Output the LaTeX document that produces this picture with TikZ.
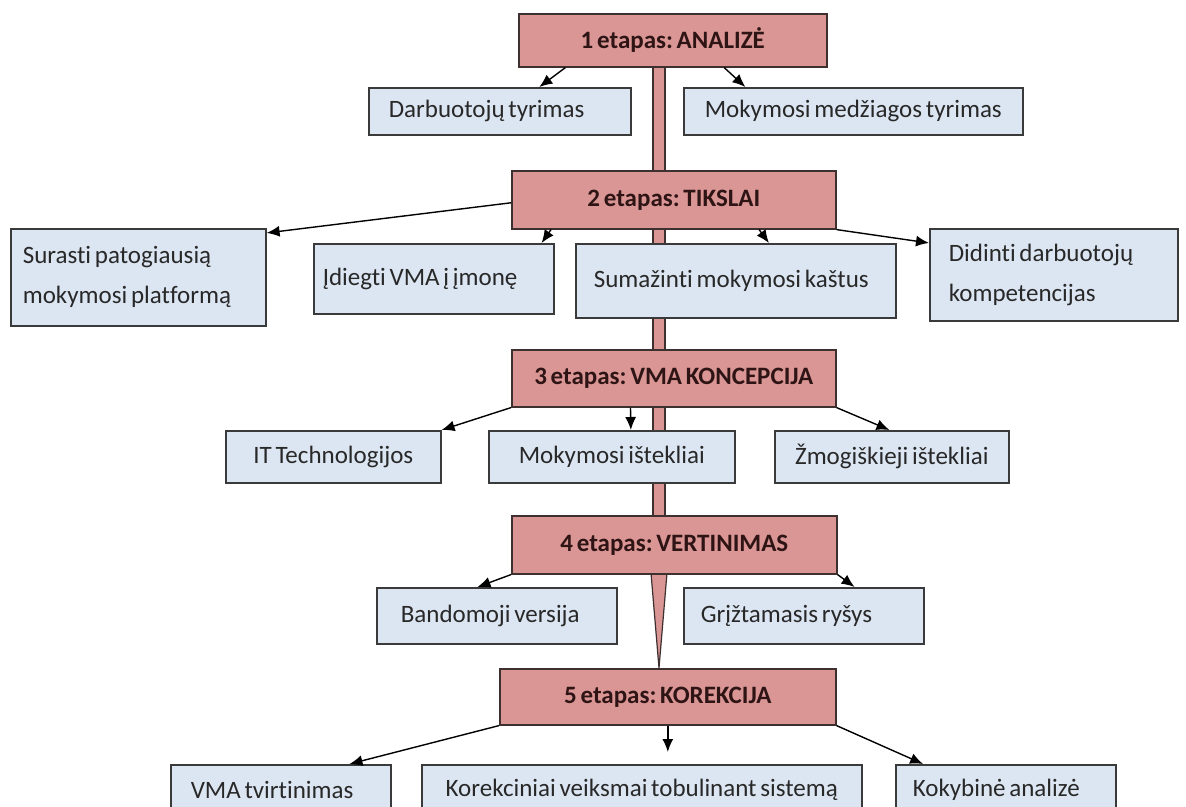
\documentclass[tikz,border=0pt]{standalone}
\usepackage{fontspec}
\setmainfont{Carlito}[Ligatures=NoCommon]
\usetikzlibrary{arrows.meta,calc}

\definecolor{stagefill}{HTML}{D99694}
\definecolor{stageline}{HTML}{3F3030}
\definecolor{stagetext}{HTML}{2E1414}
\definecolor{itemfill}{HTML}{DCE6F2}
\definecolor{itemline}{HTML}{3A3A3A}
\definecolor{itemtext}{HTML}{282828}

% narrow gap between words
\newcommand\wordgap{\hspace{0.15em}}

\tikzset{
  stage/.style={draw=stageline, fill=stagefill, line width=1.6pt,
    anchor=north west, inner ysep=0pt, align=center, text=stagetext,
    font=\bfseries\fontsize{25}{29}\selectfont},
  item/.style={draw=itemline, fill=itemfill, line width=1.6pt,
    anchor=north west, inner ysep=0pt, align=left, text=itemtext,
    font=\fontsize{25}{40}\selectfont},
  centred/.style={align=center},
  arr/.style={draw=black, line width=1.4pt, -{Latex[length=13pt,width=11pt]}},
  shaft/.style={fill=stagefill, draw=stageline, line width=1.2pt},
}

\begin{document}
\begin{tikzpicture}[x=1pt,y=-1pt]
\useasboundingbox (0,0) rectangle (1186,806);

% central spine behind all boxes
\draw[shaft] (653,60) rectangle (665,540);
\draw[shaft] (651,573) -- (667,573) -- (659,668) -- cycle;

% stage 1
\node[stage, inner xsep=0pt, text width=308pt, minimum height=53pt] (b1) at (518,13) {1\wordgap etapas:\wordgap ANALIZĖ};
\node[item, inner xsep=20pt, text width=222pt, minimum height=47pt] (d1) at (368,87) {Darbuotojų\wordgap tyrimas};
\node[item, inner xsep=21pt, text width=297pt, minimum height=47pt] (d2) at (683,87) {Mokymosi\wordgap medžiagos\wordgap tyrimas};

% stage 2
\node[stage, inner xsep=0pt, text width=324pt, minimum height=58pt] (b2) at (511,170) {2\wordgap etapas:\wordgap TIKSLAI};
\node[item, inner xsep=12pt, text width=231pt, minimum height=97pt] (s1) at (10,228) {Surasti\wordgap patogiausią\\mokymosi\wordgap platformą};
\node[item, inner xsep=9pt, text width=222pt, minimum height=70pt] (s2) at (313,243) {Įdiegti\wordgap VMA\wordgap į\wordgap įmonę};
\node[item, inner xsep=18pt, text width=284pt, minimum height=74pt] (s3) at (575,243) {Sumažinti\wordgap mokymosi\wordgap kaštus};
\node[item, inner xsep=19pt, text width=210pt, minimum height=92pt] (s4) at (929,228) {Didinti\wordgap darbuotojų\\kompetencijas};

% stage 3
\node[stage, inner xsep=0pt, text width=324pt, minimum height=57pt] (b3) at (511,349) {3\wordgap etapas:\wordgap VMA\wordgap KONCEPCIJA};
\node[item, centred, inner xsep=0pt, text width=215pt, minimum height=52pt] (t1) at (225,430) {IT\wordgap Technologijos};
\node[item, centred, inner xsep=0pt, text width=246pt, minimum height=52pt] (t2) at (488,430) {Mokymosi\wordgap ištekliai};
\node[item, centred, inner xsep=0pt, text width=234pt, minimum height=52pt] (t3) at (774,430) {Žmogiškieji\wordgap ištekliai};

% stage 4
\node[stage, inner xsep=0pt, text width=325pt, minimum height=58pt] (b4) at (511,515) {4\wordgap etapas:\wordgap VERTINIMAS};
\node[item, inner xsep=24pt, text width=192pt, minimum height=56pt] (v1) at (376,587) {Bandomoji\wordgap versija};
\node[item, inner xsep=17pt, text width=206pt, minimum height=56pt] (v2) at (683,587) {Grįžtamasis\wordgap ryšys};

% stage 5
\node[stage, inner xsep=0pt, text width=336pt, minimum height=56pt] (b5) at (499,668) {5\wordgap etapas:\wordgap KOREKCIJA};
\node[item, inner xsep=20pt, text width=180pt, minimum height=50pt] (k1) at (170,764) {VMA\wordgap tvirtinimas};
\node[item, centred, inner xsep=0pt, text width=440pt, minimum height=50pt] (k2) at (421,764) {Korekciniai\wordgap veiksmai\wordgap tobulinant\wordgap sistemą};
\node[item, inner xsep=17pt, text width=186pt, minimum height=50pt] (k3) at (895,764) {Kokybinė\wordgap analizė};

% connectors
\draw[arr] ($(b1.south west)!0.153!(b1.south east)$) -- ($(d1.north west)!0.65!(d1.north east)$);
\draw[arr] ($(b1.south west)!0.666!(b1.south east)$) -- ($(d2.north west)!0.183!(d2.north east)$);

\draw[arr] ($(b2.north west)!0.55!(b2.south west)$) -- ($(s1.north east)!0.05!(s1.south east)$);
\draw[arr] ($(b2.south west)!0.123!(b2.south east)$) -- ($(s2.north west)!0.946!(s2.north east)$);
\draw[arr] ($(b2.south west)!0.762!(b2.south east)$) -- ($(s3.north west)!0.603!(s3.north east)$);
\draw[arr] (b2.south east) -- ($(s4.north west)!0.16!(s4.south west)$);

\draw[arr] (b3.south west) -- (t1.north east);
\draw[arr] ($(b3.south west)!0.367!(b3.south east)$) -- ($(t2.north west)!0.577!(t2.north east)$);
\draw[arr] (b3.south east) -- ($(t3.north west)!0.49!(t3.north east)$);

\draw[arr] (b4.south west) -- ($(v1.north west)!0.42!(v1.north east)$);
\draw[arr] (b4.south east) -- ($(v2.north west)!0.71!(v2.north east)$);

\draw[arr] (b5.south west) -- ($(k1.north west)!0.81!(k1.north east)$);
\draw[arr, shorten >=12pt] (b5.south) -- (b5.south |- k2.north);
\draw[arr] (b5.south east) -- ($(k3.north west)!0.127!(k3.north east)$);
\end{tikzpicture}
\end{document}
